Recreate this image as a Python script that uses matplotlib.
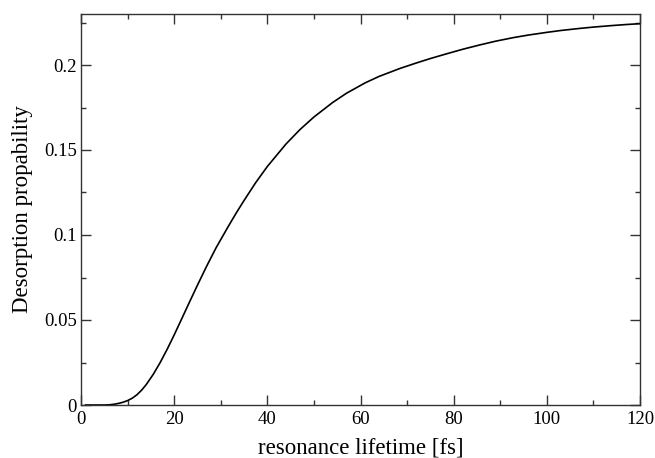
import matplotlib.pyplot as plt
from matplotlib.ticker import MultipleLocator, FuncFormatter

# resonance lifetime [fs] vs desorption probability
lifetime = [1, 3, 5, 6, 7, 8, 9, 10, 11, 12, 13, 14, 15.5, 17, 18.5, 20, 21.5,
            23.4, 25, 27, 29, 31.5, 33.4, 35, 37.5, 40, 44, 47, 50, 54, 57, 61,
            64, 68.5, 72, 75, 78.5, 82, 85.6, 89, 92.8, 96, 100, 103, 107, 110,
            114, 117, 120]
prob = [0, 0, 0, 0.0001, 0.0004, 0.0009, 0.0016, 0.0026, 0.0040, 0.0060, 0.0087,
        0.0120, 0.0180, 0.0250, 0.0328, 0.0412, 0.0500, 0.0612, 0.0705, 0.0818,
        0.0925, 0.1045, 0.1133, 0.1203, 0.1308, 0.1403, 0.1535, 0.1620, 0.1694,
        0.1779, 0.1834, 0.1895, 0.1933, 0.1980, 0.2012, 0.2038, 0.2066, 0.2093,
        0.2118, 0.2140, 0.2161, 0.2176, 0.2192, 0.2203, 0.2215, 0.2223, 0.2232,
        0.2238, 0.2243]

plt.rcParams['font.family'] = ['Liberation Serif', 'DejaVu Serif']

fig = plt.figure(figsize=(6.55, 4.58), dpi=100)
ax = fig.add_axes([81/655, 53/458, 559/655, 391/458])

ax.plot(lifetime, prob, color='black', linewidth=1.2)

ax.set_xlim(0, 120)
ax.set_ylim(0, 0.23)
ax.xaxis.set_major_locator(MultipleLocator(20))
ax.xaxis.set_minor_locator(MultipleLocator(10))
ax.yaxis.set_major_locator(MultipleLocator(0.05))
ax.yaxis.set_minor_locator(MultipleLocator(0.025))
ax.yaxis.set_major_formatter(FuncFormatter(lambda v, p: '%g' % round(v, 3)))

ax.tick_params(which='both', direction='in', top=True, right=True,
               colors='#333333', labelcolor='black', labelsize=13.5, width=1)
ax.tick_params(which='major', length=7)
ax.tick_params(which='minor', length=3.5)
ax.tick_params(axis='x', pad=4)
ax.tick_params(axis='y', pad=3)
for s in ax.spines.values():
    s.set_color('#333333')
    s.set_linewidth(1)

ax.set_xlabel('resonance lifetime [fs]', fontsize=16.5, labelpad=7)
ax.set_ylabel('Desorption propability', fontsize=16.5, labelpad=8)

fig.savefig('out.png', dpi=100)
